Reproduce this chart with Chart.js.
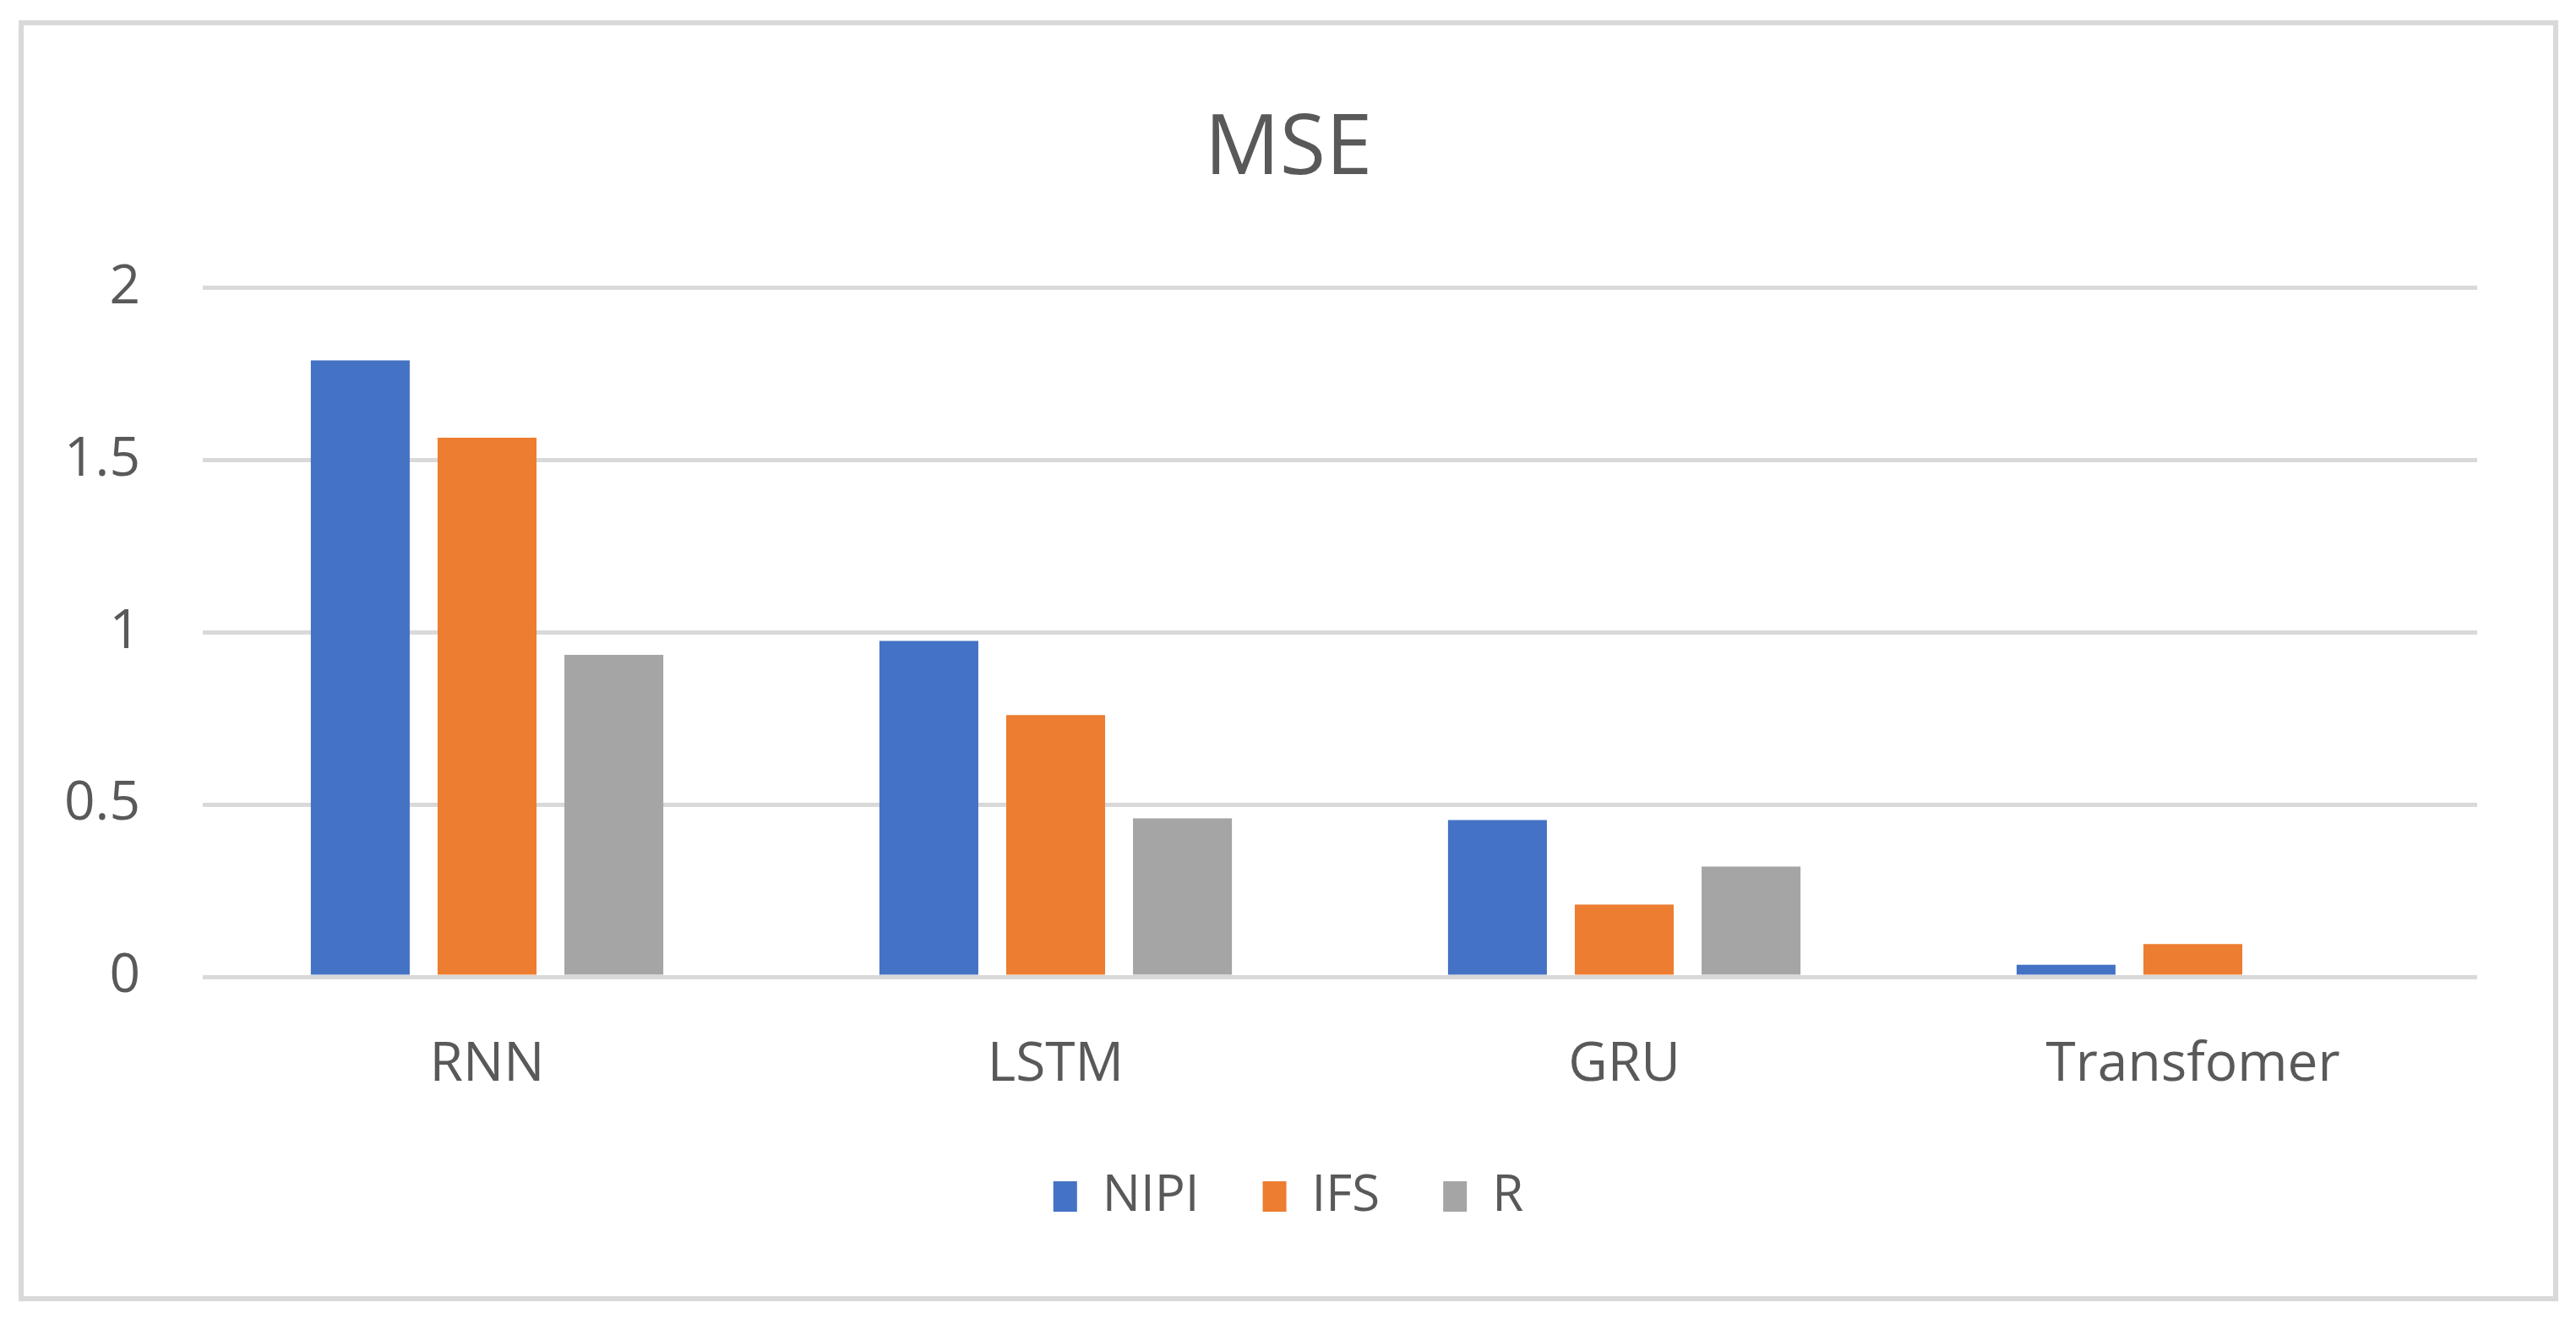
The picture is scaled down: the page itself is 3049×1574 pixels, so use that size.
<!DOCTYPE html>
<html>
<head>
<meta charset="utf-8">
<script src="https://cdn.jsdelivr.net/npm/chart.js"></script>
<style>
  html, body { margin: 0; padding: 0; background: #fff; }
  .frame {
    position: absolute;
    left: 22px; top: 24px;
    width: 2994px; height: 1504px;
    border: 6px solid #d9d9d9;
    background: #fff;
  }
  .frame canvas { display: block; }
</style>
</head>
<body>
<div class="frame"><canvas id="mse"></canvas></div>
<script>
const models = ['RNN', 'LSTM', 'GRU', 'Transfomer'];
const nipi = [1.79, 0.975, 0.455, 0.035];
const ifs = [1.565, 0.76, 0.21, 0.095];
const r = [0.935, 0.46, 0.32, 0];
const yTicks = [0, 0.5, 1, 1.5, 2];
const yTickLabels = ['0', '0.5', '1', '1.5', '2'];

const textColor = '#595959';
const gridColor = '#d9d9d9';
const fontFamily = '"Open Sans", "Noto Sans", sans-serif';

const ctx = document.getElementById('mse');

new Chart(ctx, {
    type: 'bar',
    data: {
        labels: models,
        datasets: [
            { label: 'NIPI', data: nipi, backgroundColor: '#4472C4' },
            { label: 'IFS', data: ifs, backgroundColor: '#ED7D31' },
            { label: 'R', data: r, backgroundColor: '#A5A5A5' }
        ]
    },
    options: {
        responsive: true,
        maintainAspectRatio: false,
        animation: false,
        categoryPercentage: 0.669,
        barPercentage: 0.78,
        layout: {
            padding: { left: 0, right: 0, top: 0, bottom: 78 }
        },
        scales: {
            x: {
                grid: { display: false },
                border: { display: false },
                ticks: {
                    color: textColor,
                    padding: 58,
                    font: { family: fontFamily, size: 64 }
                },
                afterFit: (scale) => { scale.height = 155; }
            },
            y: {
                min: 0,
                max: 2,
                afterBuildTicks: (scale) => {
                    scale.ticks = yTicks.map(v => ({ value: v }));
                },
                grid: {
                    color: gridColor,
                    lineWidth: 5,
                    drawTicks: false
                },
                border: { display: false },
                ticks: {
                    color: textColor,
                    padding: 74,
                    font: { family: fontFamily, size: 64 },
                    callback: (value, i) => yTickLabels[i]
                },
                afterFit: (scale) => { scale.width = 212; }
            },
            // empty right axis, only keeps the right margin (title/legend stay centred)
            yRight: {
                position: 'right',
                grid: { display: false },
                border: { display: false },
                ticks: { display: false },
                afterFit: (scale) => { scale.width = 90; }
            }
        },
        plugins: {
            tooltip: { enabled: false },
            title: {
                display: true,
                text: 'MSE',
                color: textColor,
                padding: { top: 88, bottom: 104 },
                font: { family: fontFamily, size: 99, weight: 'normal' }
            },
            legend: {
                position: 'bottom',
                labels: {
                    color: textColor,
                    boxWidth: 28,
                    boxHeight: 36,
                    padding: 75,
                    font: { family: fontFamily, size: 60 }
                }
            }
        }
    }
});
</script>
</body>
</html>
